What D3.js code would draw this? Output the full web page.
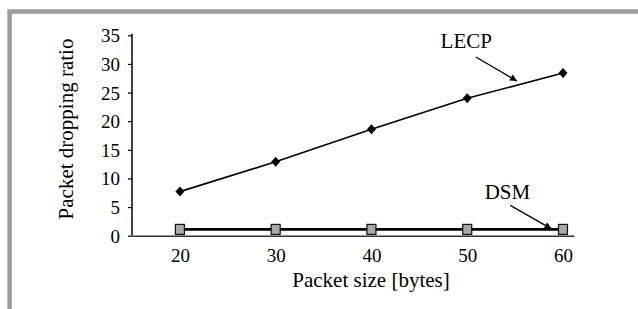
<!DOCTYPE html>
<html>
<head>
    <script src="https://cdn.jsdelivr.net/npm/d3@7"></script>
    <style>
        body { margin: 0; background: #fff; }
        svg text { font-family: "Liberation Serif", "Times New Roman", Tinos, "DejaVu Serif", serif; }
    </style>
</head>
<body>
<div id="chart"></div>
<script>
    // chart values
    var packetSizes = [20, 30, 40, 50, 60];
    var lecp = [7.7, 12.9, 18.6, 24.0, 28.4];
    var dsm = [1.1, 1.1, 1.1, 1.1, 1.1];
    var yTicks = [0, 5, 10, 15, 20, 25, 30, 35];
    var xTicks = [20, 30, 40, 50, 60];

    var W = 638, H = 309;
    var svg = d3.select("#chart").append("svg")
        .attr("width", W).attr("height", H);

    // grey frame (runs off the right and bottom edges)
    svg.append("rect")
        .attr("x", 9.6).attr("y", 11.5)
        .attr("width", 700).attr("height", 400)
        .attr("fill", "none").attr("stroke", "#9c9c9c").attr("stroke-width", 4.5);

    var x = d3.scaleLinear().domain([15, 61.15]).range([132, 574]);
    var y = d3.scaleLinear().domain([0, 35]).range([235.7, 35.3]);

    // y axis
    var yAxis = d3.axisLeft(y).tickValues(yTicks).tickSize(4).tickPadding(8);
    var gy = svg.append("g").attr("transform", "translate(" + x(15) + ",0)").call(yAxis);
    gy.attr("font-family", null).attr("font-size", null);
    gy.select(".domain").attr("stroke-width", 1.5).attr("d", "M0," + y(0) + "V" + (y(35) - 1.5));
    gy.selectAll(".tick line").attr("stroke-width", 1.2);
    gy.selectAll("text").style("font-size", "19px").attr("fill", "#000").attr("dy", "0.34em");

    // x axis (no tick marks)
    var xAxis = d3.axisBottom(x).tickValues(xTicks).tickSize(0).tickPadding(13);
    var gx = svg.append("g").attr("transform", "translate(0," + y(0) + ")").call(xAxis);
    gx.attr("font-family", null).attr("font-size", null);
    gx.select(".domain").attr("stroke-width", 1.5).attr("stroke", "#333");
    gx.selectAll("text").style("font-size", "19px").attr("fill", "#000");

    // axis titles
    svg.append("text")
        .attr("x", 371).attr("y", 287)
        .attr("text-anchor", "middle").style("font-size", "21px")
        .text("Packet size [bytes]");
    svg.append("text")
        .attr("transform", "translate(73," + 129 + ") rotate(-90)")
        .attr("text-anchor", "middle").style("font-size", "21px")
        .text("Packet dropping ratio");

    var line = d3.line()
        .x(function(d, i) { return x(packetSizes[i]); })
        .y(function(d) { return y(d); });

    // DSM series
    svg.append("path").datum(dsm)
        .attr("d", line).attr("fill", "none")
        .attr("stroke", "#000").attr("stroke-width", 2.8);
    svg.selectAll(".dsm").data(dsm).enter().append("rect")
        .attr("class", "dsm")
        .attr("x", function(d, i) { return x(packetSizes[i]) - 4.5; })
        .attr("y", function(d) { return y(d) - 5; })
        .attr("width", 9).attr("height", 10)
        .attr("fill", "#a8a8a8").attr("stroke", "#111").attr("stroke-width", 1.2);

    // LECP series
    svg.append("path").datum(lecp)
        .attr("d", line).attr("fill", "none")
        .attr("stroke", "#000").attr("stroke-width", 1.6);
    svg.selectAll(".lecp").data(lecp).enter().append("path")
        .attr("class", "lecp")
        .attr("transform", function(d, i) { return "translate(" + x(packetSizes[i]) + "," + y(d) + ")"; })
        .attr("d", "M0,-5L4.5,0L0,5L-4.5,0Z")
        .attr("fill", "#000");

    // annotations
    var defs = svg.append("defs");
    defs.append("marker")
        .attr("id", "arrow").attr("viewBox", "0 0 10 10")
        .attr("refX", 10).attr("refY", 5)
        .attr("markerWidth", 9).attr("markerHeight", 7)
        .attr("markerUnits", "userSpaceOnUse")
        .attr("orient", "auto")
        .append("path").attr("d", "M0,0L10,5L0,10Z").attr("fill", "#000");

    var notes = [
        {label: "LECP", tx: 49.9, ty: 32.8, x1: 50.9, y1: 31.2, x2: 55.2, y2: 27.0},
        {label: "DSM", tx: 54.2, ty: 6.4, x1: 54.5, y1: 5.3, x2: 58.8, y2: 1.2}
    ];
    notes.forEach(function(n) {
        svg.append("text")
            .attr("x", x(n.tx)).attr("y", y(n.ty))
            .attr("text-anchor", "middle").style("font-size", "21px")
            .text(n.label);
        svg.append("line")
            .attr("x1", x(n.x1)).attr("y1", y(n.y1))
            .attr("x2", x(n.x2)).attr("y2", y(n.y2))
            .attr("stroke", "#000").attr("stroke-width", 1.3)
            .attr("marker-end", "url(#arrow)");
    });
</script>
</body>
</html>
